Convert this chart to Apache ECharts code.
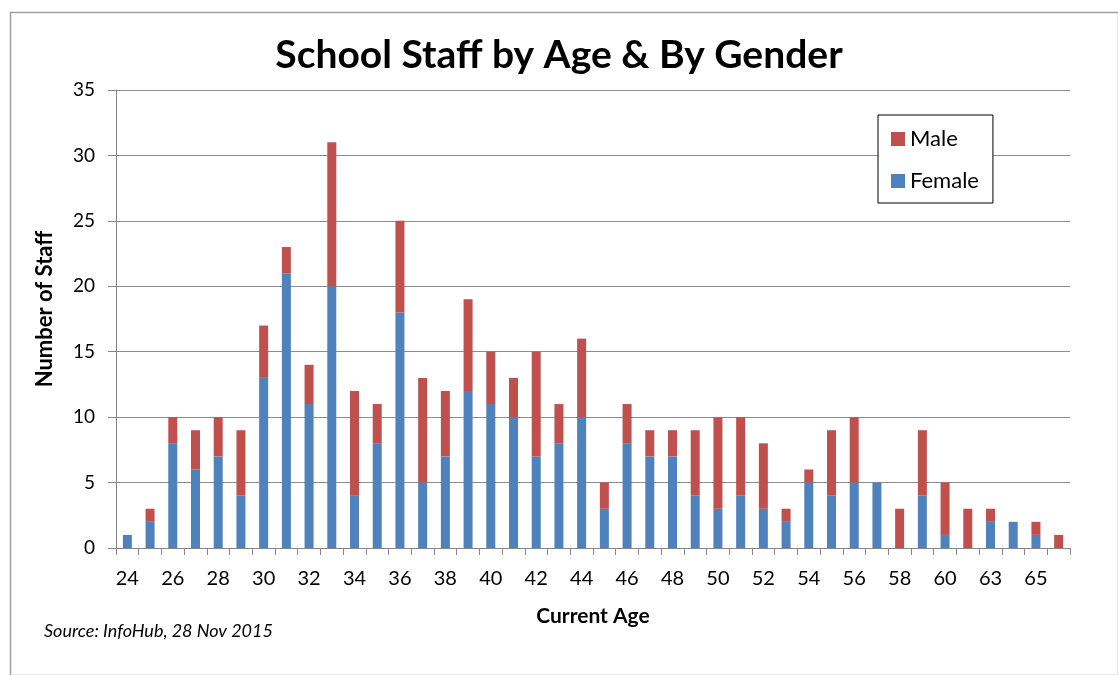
<!DOCTYPE html>
<html>
<head>
<meta charset="utf-8">
<title>School Staff by Age & By Gender</title>
<script src="https://cdn.jsdelivr.net/npm/echarts@6/dist/echarts.min.js"></script>
<style>
  html, body { margin: 0; padding: 0; background: #fff; }
  #chart { width: 1118px; height: 675px; }
</style>
</head>
<body>
<div id="chart"></div>
<script>
// Staff counts per age, split by gender
const ages = ['24','25','26','27','28','29','30','31','32','33','34','35','36','37','38','39','40','41','42','43','44','45','46','47','48','49','50','51','52','53','54','55','56','57','58','59','60','62','63','64','65','66'];
const female = [1,2,8,6,7,4,13,21,11,20,4,8,18,5,7,12,11,10,7,8,10,3,8,7,7,4,3,4,3,2,5,4,5,5,0,4,1,0,2,2,1,0];
const male   = [0,1,2,3,3,5,4,2,3,11,8,3,7,8,5,7,4,3,8,3,6,2,3,2,2,5,7,6,5,1,1,5,5,0,3,5,4,3,1,0,1,1];
const yTicks = [0, 5, 10, 15, 20, 25, 30, 35];

const FONT = 'Lato, "Open Sans", sans-serif';
const chart = echarts.init(document.getElementById('chart'), null, { renderer: 'canvas' });

chart.setOption({
  backgroundColor: '#ffffff',
  animation: false,
  title: {
    text: 'School Staff by Age & By Gender',
    left: 'center',
    top: 31,
    textStyle: { fontFamily: FONT, fontSize: 39, fontWeight: 'bold', color: '#000' }
  },
  legend: {
    data: ['Male', 'Female'],
    orient: 'vertical',
    left: 878,
    top: 115,
    itemWidth: 14,
    itemHeight: 14,
    itemGap: 18,
    icon: 'rect',
    padding: [12, 14, 10, 13],
    backgroundColor: '#ffffff',
    borderColor: '#000000',
    borderWidth: 1,
    textStyle: { fontFamily: FONT, fontSize: 22, lineHeight: 24, color: '#000' }
  },
  grid: { left: 116, right: 48, top: 90, bottom: 127, containLabel: false },
  xAxis: {
    type: 'category',
    data: ages,
    name: 'Current Age',
    nameLocation: 'middle',
    nameGap: 58,
    nameTextStyle: { fontFamily: FONT, fontSize: 21, fontWeight: 'bold', color: '#000' },
    axisLine: { lineStyle: { color: '#868686', width: 1 } },
    axisTick: { show: true, interval: 0, length: 7, lineStyle: { color: '#868686' } },
    axisLabel: { interval: 1, margin: 21, fontFamily: FONT, fontSize: 20, color: '#000' },
    splitLine: { show: false }
  },
  yAxis: {
    type: 'value',
    min: yTicks[0],
    max: yTicks[yTicks.length - 1],
    interval: 5,
    name: 'Number of Staff',
    nameLocation: 'middle',
    nameGap: 60,
    nameTextStyle: { fontFamily: FONT, fontSize: 22, fontWeight: 'bold', color: '#000', padding: [0, 0, 0, 20] },
    axisLine: { show: true, lineStyle: { color: '#868686', width: 1 } },
    axisTick: { show: true, length: 8, lineStyle: { color: '#868686' } },
    axisLabel: { margin: 21, fontFamily: FONT, fontSize: 19, color: '#000' },
    splitLine: { show: true, lineStyle: { color: '#8c8c8c', width: 1 } }
  },
  series: [
    {
      name: 'Female',
      type: 'bar',
      stack: 'staff',
      data: female,
      barWidth: 9,
      itemStyle: { color: '#4f81bd' }
    },
    {
      name: 'Male',
      type: 'bar',
      stack: 'staff',
      data: male,
      barWidth: 9,
      itemStyle: { color: '#c0504d' }
    }
  ],
  graphic: [
    {
      type: 'rect',
      left: 8,
      top: 10,
      shape: { width: 1108, height: 663 },
      style: { fill: 'none', stroke: '#a0a0a0', lineWidth: 1.5 },
      silent: true,
      z: -1
    },
    {
      type: 'text',
      left: 44,
      top: 622,
      style: {
        text: 'Source: InfoHub, 28 Nov 2015',
        font: 'italic 18px ' + FONT,
        fill: '#000'
      }
    }
  ]
});
</script>
</body>
</html>
